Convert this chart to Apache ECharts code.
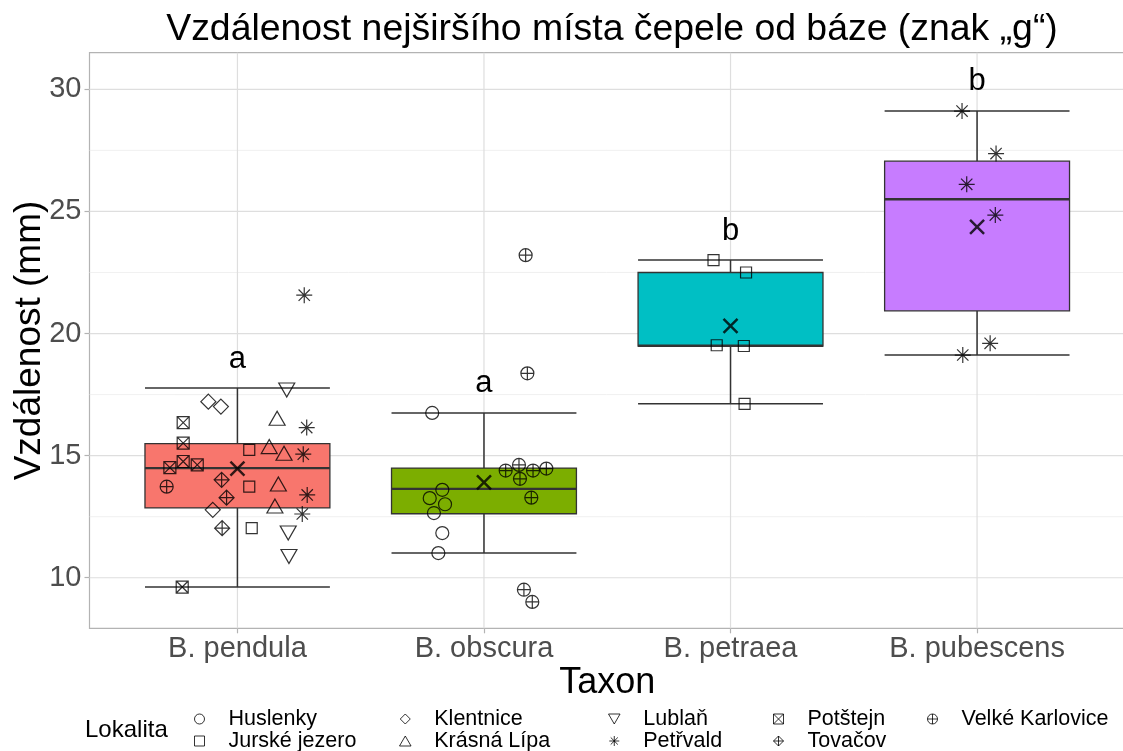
<!DOCTYPE html>
<html>
<head>
<meta charset="utf-8">
<script src="https://cdn.jsdelivr.net/npm/echarts@6/dist/echarts.min.js"></script>
<style>
  html, body { margin: 0; padding: 0; background: #fff; }
  #chart { width: 1123px; height: 751px; }
</style>
</head>
<body>
<div id="chart"></div>
<script>
// --- data ---
const taxa = ['B. pendula', 'B. obscura', 'B. petraea', 'B. pubescens']
const boxMin = [9.62, 11.01, 17.12, 19.12]
const boxQ1 = [12.86, 12.62, 19.49, 20.93]
const boxMedian = [14.49, 13.64, 19.50, 25.50]
const boxQ3 = [15.49, 14.49, 22.50, 27.06]
const boxMax = [17.77, 16.75, 23.01, 29.11]
const means = [14.47, 13.91, 20.31, 24.37]
const letters = ['a', 'a', 'b', 'b']
const letterY = [18.93, 17.95, 24.18, 30.33]

const yTicks = [10, 15, 20, 25, 30]
const yMinor = [12.5, 17.5, 22.5, 27.5]
const xTicks = [1, 2, 3, 4]

const sites = ['Huslenky', 'Jurské jezero', 'Klentnice', 'Krásná Lípa', 'Lublaň',
  'Petřvald', 'Potštejn', 'Tovačov', 'Velké Karlovice']

// [taxon, jitter, value]
const huslenky = [[2, -0.21, 16.75], [2, -0.169, 13.60], [2, -0.22, 13.26], [2, -0.158, 13.01],
  [2, -0.203, 12.65], [2, -0.169, 11.83], [2, -0.185, 11.01]]
const jurske = [[1, 0.048, 15.24], [1, 0.048, 13.73], [1, 0.058, 12.03],
  [3, -0.069, 23.01], [3, 0.063, 22.50], [3, -0.056, 19.52], [3, 0.054, 19.49], [3, 0.057, 17.12]]
const klentnice = [[1, -0.118, 17.21], [1, -0.067, 17.01], [1, -0.10, 12.78]]
const krasna = [[1, 0.161, 16.53], [1, 0.129, 15.37], [1, 0.189, 15.10], [1, 0.166, 13.84], [1, 0.152, 12.94]]
const lublan = [[1, 0.20, 17.69], [1, 0.206, 11.83], [1, 0.209, 10.87]]
const petrvald = [[1, 0.271, 21.57], [1, 0.281, 16.15], [1, 0.267, 15.06], [1, 0.283, 13.39], [1, 0.263, 12.61],
  [4, -0.061, 29.11], [4, 0.077, 27.37], [4, -0.042, 26.11], [4, 0.074, 24.85], [4, 0.053, 19.60], [4, -0.058, 19.12]]
const potstejn = [[1, -0.22, 16.35], [1, -0.22, 15.51], [1, -0.22, 14.76], [1, -0.274, 14.51],
  [1, -0.163, 14.62], [1, -0.224, 9.62]]
const tovacov = [[1, -0.064, 14.01], [1, -0.044, 13.28], [1, -0.062, 12.03]]
const velkeKarlovice = [[1, -0.287, 13.73],
  [2, 0.169, 23.21], [2, 0.176, 18.37], [2, 0.088, 14.39], [2, 0.142, 14.62], [2, 0.199, 14.39],
  [2, 0.253, 14.47], [2, 0.146, 14.05], [2, 0.192, 13.28], [2, 0.162, 9.51], [2, 0.196, 9.01]]
const sitePoints = [huslenky, jurske, klentnice, krasna, lublan, petrvald, potstejn, tovacov, velkeKarlovice]

// --- styles ---
const FONT = '"Liberation Sans", Arial, sans-serif'
const boxColors = ['#F8766D', '#7CAE00', '#00BFC4', '#C77CFF']
const X_MIN = 0.4, X_MAX = 4.6, Y_MIN = 7.93, Y_MAX = 31.5

const shapes = {
  circle: 'path://M0,5A5,5,0,1,1,10,5A5,5,0,1,1,0,5Z',
  square: 'path://M0,0L10,0L10,10L0,10Z',
  diamond: 'path://M5,0L10,5L5,10L0,5Z',
  triUp: 'path://M5,0L10,8.66L0,8.66Z',
  triDown: 'path://M0,0L10,0L5,8.66Z',
  asterisk: 'path://M5,0L5,10M0,5L10,5M1.46,1.46L8.54,8.54M8.54,1.46L1.46,8.54',
  squareX: 'path://M0,0L10,0L10,10L0,10ZM0,0L10,10M10,0L0,10',
  diamondPlus: 'path://M5,0L10,5L5,10L0,5ZM5,0L5,10M0,5L10,5',
  circlePlus: 'path://M0,5A5,5,0,1,1,10,5A5,5,0,1,1,0,5ZM5,0L5,10M0,5L10,5',
  cross: 'path://M0,0L10,10M10,0L0,10'
}
const siteShape = ['circle', 'square', 'diamond', 'triUp', 'triDown', 'asterisk', 'squareX', 'diamondPlus', 'circlePlus']
const siteSize = [13, 11, 15, [16, 14], [16, 14], 16, 12, 15, 13]

const legendColumns = [['Huslenky', 'Jurské jezero'], ['Klentnice', 'Krásná Lípa'],
  ['Lublaň', 'Petřvald'], ['Potštejn', 'Tovačov'], ['Velké Karlovice']]
const legendLeft = [194, 399, 608, 773, 927]

function gridLines (values, horizontal, color, width) {
  return {
    type: 'custom',
    silent: true,
    z: 1,
    data: values.map(v => [v]),
    renderItem: (params, api) => {
      const v = api.value(0)
      const a = horizontal ? api.coord([X_MIN, v]) : api.coord([v, Y_MIN])
      const b = horizontal ? api.coord([X_MAX, v]) : api.coord([v, Y_MAX])
      return {
        type: 'line',
        shape: { x1: a[0], y1: a[1], x2: b[0], y2: b[1] },
        style: { stroke: color, lineWidth: width }
      }
    }
  }
}

const boxSeries = {
  type: 'custom',
  silent: true,
  z: 2,
  data: taxa.map((t, i) => [i + 1, boxMin[i], boxQ1[i], boxMedian[i], boxQ3[i], boxMax[i]]),
  renderItem: (params, api) => {
    const x = api.value(0)
    const lo = api.coord([x, api.value(1)])
    const q1 = api.coord([x, api.value(2)])
    const md = api.coord([x, api.value(3)])
    const q3 = api.coord([x, api.value(4)])
    const hi = api.coord([x, api.value(5)])
    const hw = api.size([0.75, 0])[0] / 2
    const cx = lo[0]
    const line = { stroke: '#333333', lineWidth: 1.5 }
    return {
      type: 'group',
      children: [
        { type: 'line', shape: { x1: cx, y1: hi[1], x2: cx, y2: q3[1] }, style: line },
        { type: 'line', shape: { x1: cx, y1: q1[1], x2: cx, y2: lo[1] }, style: line },
        { type: 'line', shape: { x1: cx - hw, y1: hi[1], x2: cx + hw, y2: hi[1] }, style: line },
        { type: 'line', shape: { x1: cx - hw, y1: lo[1], x2: cx + hw, y2: lo[1] }, style: line },
        {
          type: 'rect',
          shape: { x: cx - hw, y: q3[1], width: hw * 2, height: q1[1] - q3[1] },
          style: { fill: boxColors[params.dataIndex], stroke: '#333333', lineWidth: 1.3 }
        },
        { type: 'line', shape: { x1: cx - hw, y1: md[1], x2: cx + hw, y2: md[1] }, style: { stroke: '#333333', lineWidth: 2.4 } }
      ]
    }
  }
}

const pointSeries = sites.map((name, i) => ({
  type: 'scatter',
  name: name,
  silent: true,
  z: 3,
  symbol: shapes[siteShape[i]],
  symbolSize: siteSize[i],
  itemStyle: { color: 'transparent', borderColor: '#000', borderWidth: 1.2 },
  data: sitePoints[i].map(p => [p[0] + p[1], p[2]])
}))

const meanSeries = {
  type: 'scatter',
  name: 'mean',
  silent: true,
  z: 4,
  symbol: shapes.cross,
  symbolSize: 14,
  itemStyle: { color: 'transparent', borderColor: '#000', borderWidth: 2.5 },
  data: means.map((m, i) => [i + 1, m])
}

const letterSeries = {
  type: 'custom',
  silent: true,
  z: 4,
  data: letters.map((l, i) => [i + 1, letterY[i]]),
  renderItem: (params, api) => {
    const p = api.coord([api.value(0), api.value(1)])
    return {
      type: 'text',
      x: p[0],
      y: p[1],
      style: {
        text: letters[params.dataIndex],
        fill: '#000',
        font: '31px ' + FONT,
        align: 'center',
        verticalAlign: 'middle'
      }
    }
  }
}

const chart = echarts.init(document.getElementById('chart'))

chart.setOption({
  animation: false,
  backgroundColor: '#fff',
  textStyle: { fontFamily: FONT },
  title: [{
    text: 'Vzdálenost nejširšího místa čepele od báze (znak „g“)',
    left: 612,
    top: 11,
    padding: 0,
    textAlign: 'center',
    textStyle: { fontFamily: FONT, fontSize: 37.4, fontWeight: 'normal', color: '#000' }
  }, {
    text: 'Lokalita',
    left: 85,
    top: 718,
    padding: 0,
    textStyle: { fontFamily: FONT, fontSize: 24, fontWeight: 'normal', color: '#000' }
  }],
  legend: legendColumns.map((col, i) => ({
    data: col,
    orient: 'vertical',
    left: legendLeft[i],
    top: 708,
    width: 200,
    height: 60,
    padding: 0,
    itemGap: 0,
    itemWidth: 48,
    itemHeight: 10,
    symbolKeepAspect: true,
    selectedMode: false,
    itemStyle: { color: 'transparent', borderColor: '#000', borderWidth: 1 },
    textStyle: { fontFamily: FONT, fontSize: 21.5, lineHeight: 22, color: '#000' }
  })),
  grid: {
    left: 89.5,
    top: 52.7,
    right: -2,
    bottom: 122.7,
    outerBoundsMode: 'none',
    containLabel: false,
    show: true,
    borderColor: '#b3b3b3',
    borderWidth: 1.2,
    backgroundColor: 'transparent'
  },
  xAxis: {
    type: 'value',
    min: X_MIN,
    max: X_MAX,
    name: 'Taxon',
    nameLocation: 'middle',
    nameGap: 37,
    nameMoveOverlap: false,
    nameTextStyle: { fontFamily: FONT, fontSize: 36, color: '#000' },
    axisLine: { show: false },
    splitLine: { show: false },
    axisTick: { show: true, customValues: xTicks, length: 5, lineStyle: { color: '#b3b3b3', width: 1.2 } },
    axisLabel: {
      customValues: xTicks,
      margin: 6,
      fontSize: 29,
      color: '#4d4d4d',
      fontFamily: FONT,
      formatter: v => taxa[Math.round(v) - 1]
    }
  },
  yAxis: {
    type: 'value',
    min: Y_MIN,
    max: Y_MAX,
    name: 'Vzdálenost (mm)',
    nameLocation: 'middle',
    nameGap: 41,
    nameMoveOverlap: false,
    nameTextStyle: { fontFamily: FONT, fontSize: 37, color: '#000' },
    axisLine: { show: false },
    splitLine: { show: false },
    axisTick: { show: true, customValues: yTicks, length: 5, lineStyle: { color: '#b3b3b3', width: 1.2 } },
    axisLabel: {
      customValues: yTicks,
      margin: 8,
      fontSize: 29,
      color: '#4d4d4d',
      fontFamily: FONT
    }
  },
  series: [
    gridLines(yMinor, true, '#ececec', 0.8),
    gridLines(yTicks, true, '#dedede', 1.2),
    gridLines(xTicks, false, '#dedede', 1.2),
    boxSeries,
    ...pointSeries,
    meanSeries,
    letterSeries
  ]
})
</script>
</body>
</html>
